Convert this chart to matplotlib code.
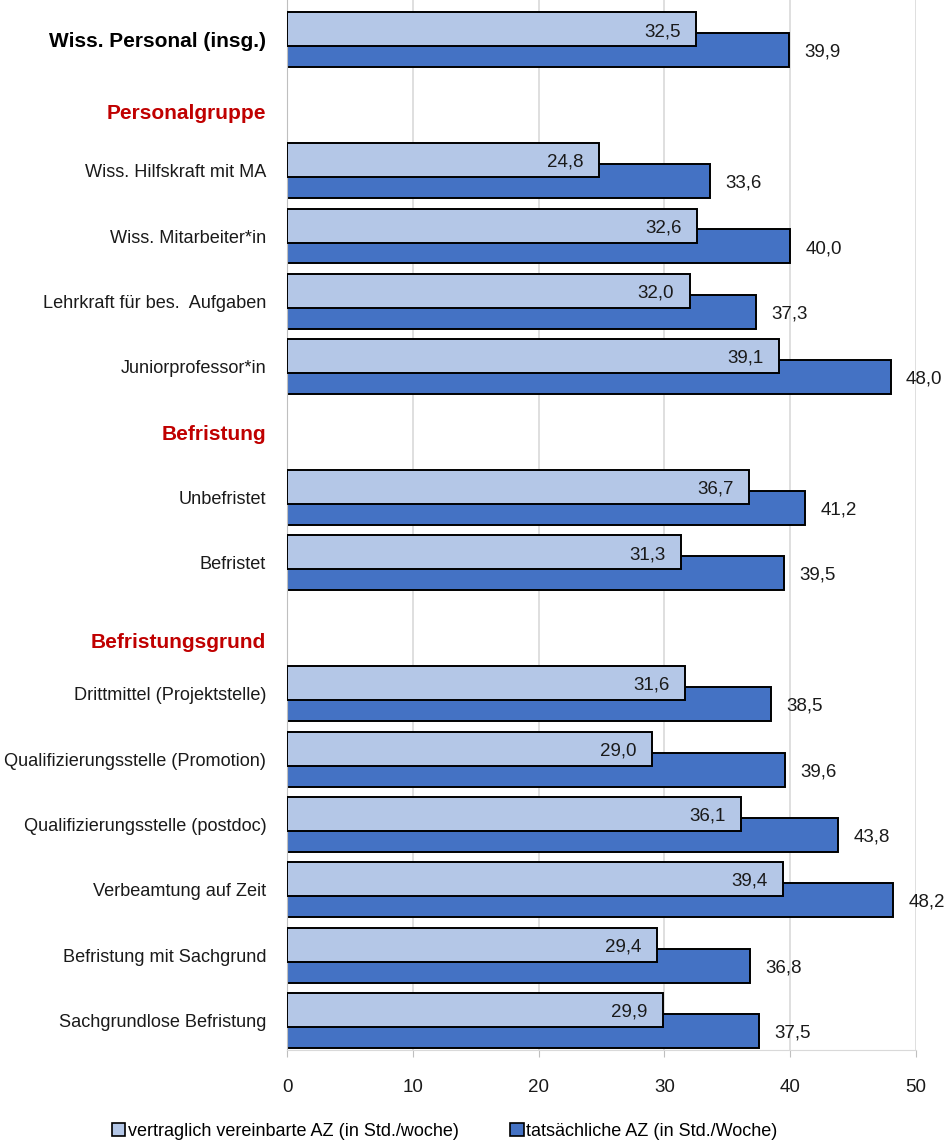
import numpy as np
import matplotlib
matplotlib.use("Agg")
import matplotlib.pyplot as plt
from matplotlib.patches import Patch

labels = ["Wiss. Personal (insg.)", "Personalgruppe", "Wiss. Hilfskraft mit MA",
          "Wiss. Mitarbeiter*in", "Lehrkraft für bes.  Aufgaben", "Juniorprofessor*in",
          "Befristung", "Unbefristet", "Befristet", "Befristungsgrund",
          "Drittmittel (Projektstelle)", "Qualifizierungsstelle (Promotion)",
          "Qualifizierungsstelle (postdoc)", "Verbeamtung auf Zeit",
          "Befristung mit Sachgrund", "Sachgrundlose Befristung"]
vertraglich = [32.5, None, 24.8, 32.6, 32.0, 39.1, None, 36.7, 31.3, None,
               31.6, 29.0, 36.1, 39.4, 29.4, 29.9]
tatsaechlich = [39.9, None, 33.6, 40.0, 37.3, 48.0, None, 41.2, 39.5, None,
                38.5, 39.6, 43.8, 48.2, 36.8, 37.5]
headers = ["Personalgruppe", "Befristung", "Befristungsgrund"]
legend_labels = ["vertraglich vereinbarte AZ (in Std./woche)",
                 "tatsächliche AZ (in Std./Woche)"]
xticks = [0, 10, 20, 30, 40, 50]

light = "#B4C7E7"
dark = "#4472C4"
red = "#C00000"
txtcol = "#1A1A1A"
plt.rcParams["font.family"] = ["Liberation Sans", "DejaVu Sans"]

fig = plt.figure(figsize=(9.46, 11.44), dpi=100)
ax = fig.add_axes([287 / 946, 1 - 1050 / 1144, 629 / 946, 1050 / 1144])

h = 0.52
off = 0.16
for i, (v, t) in enumerate(zip(vertraglich, tatsaechlich)):
    if v is None:
        continue
    ax.barh(i + off, t, height=h, color=dark, edgecolor="black", linewidth=1.4, zorder=2)
    ax.barh(i - off, v, height=h, color=light, edgecolor="black", linewidth=1.4, zorder=3)
    ax.annotate(f"{v:.1f}".replace(".", ","), (v, i - off), xytext=(-11, -1.5),
                textcoords="offset points", ha="right", va="center",
                fontsize=13.5, color=txtcol, zorder=4)
    ax.annotate(f"{t:.1f}".replace(".", ","), (t, i + off), xytext=(11, -1.5),
                textcoords="offset points", ha="left", va="center",
                fontsize=13.5, color=txtcol, zorder=4, annotation_clip=False)

# Ueberschriften etwas versetzt wie im Original
shift = {"Personalgruppe": 0.1, "Befristung": 0.0, "Befristungsgrund": 0.18}
ax.set_yticks([i + shift.get(l, 0) for i, l in enumerate(labels)])
ax.set_yticklabels(labels)
for tl in ax.get_yticklabels():
    txt = tl.get_text()
    if txt in headers:
        tl.set_color(red)
        tl.set_fontweight("bold")
        tl.set_fontsize(15)
    elif txt == labels[0]:
        tl.set_color("black")
        tl.set_fontweight("bold")
        tl.set_fontsize(15)
    else:
        tl.set_color(txtcol)
        tl.set_fontsize(13.1)
ax.tick_params(axis="y", length=0, pad=15)

ax.set_xlim(0, 50)
ax.set_ylim(15.45, -0.61)
ax.set_xticks(xticks)
ax.tick_params(axis="x", length=5, color="#BFBFBF", labelsize=13.5, labelcolor=txtcol, pad=16)
ax.grid(axis="x", color="#D9D9D9", linewidth=1.2, zorder=0)
ax.set_axisbelow(True)
for s in ["top", "right"]:
    ax.spines[s].set_visible(False)
ax.spines["left"].set_color("#BFBFBF")
ax.spines["bottom"].set_color("#D9D9D9")

handles = [Patch(facecolor=light, edgecolor="black", linewidth=1.2),
           Patch(facecolor=dark, edgecolor="black", linewidth=1.2)]
fig.legend(handles, legend_labels, loc="center", bbox_to_anchor=(0.47, 1 - 1131 / 1144),
           ncol=2, frameon=False, fontsize=13, handlelength=0.75, handleheight=0.75,
           handletextpad=0.15, columnspacing=2.85)

fig.savefig("out.png", dpi=100)
